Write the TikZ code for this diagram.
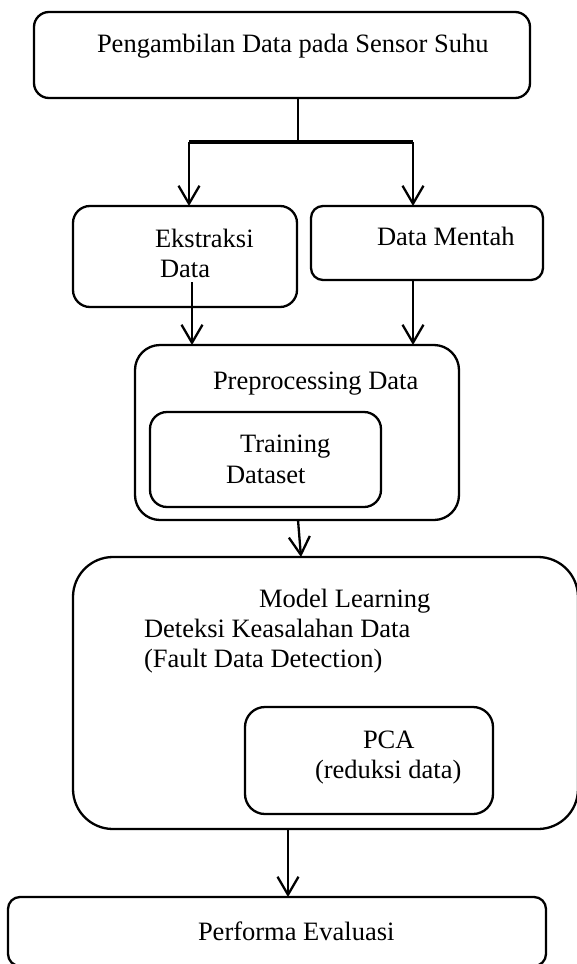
\documentclass[tikz,border=0pt]{standalone}
\usepackage{fontspec}
\setmainfont{Liberation Serif}
\usetikzlibrary{arrows.meta}
\begin{document}
\begin{tikzpicture}[x=1pt,y=-1pt,
  box/.style={draw=black, line width=2.3pt, inner sep=0pt, outer sep=0pt, anchor=north west},
  txt/.style={inner sep=0pt, outer sep=0pt, anchor=base west, font=\fontsize{26.5}{30}\selectfont},
  conn/.style={draw=black, line width=2.3pt},
  arr/.style={draw=black, line width=2.3pt, -{Straight Barb[length=18pt,width=21pt]}}]
\useasboundingbox (0,0) rectangle (576,964);
% boxes
\node[box, rounded corners=15pt, minimum width=496pt, minimum height=86pt] (top) at (34,12) {};
\node[box, rounded corners=17pt, minimum width=224pt, minimum height=101pt] (eks) at (73,206) {};
\node[box, rounded corners=12pt, minimum width=232pt, minimum height=74pt] (raw) at (311,206) {};
\node[box, rounded corners=25pt, minimum width=324pt, minimum height=175pt] (pre) at (135,345) {};
\node[box, rounded corners=17pt, minimum width=231pt, minimum height=95pt] (train) at (150,412) {};
\node[box, rounded corners=40pt, minimum width=505pt, minimum height=272pt] (ml) at (73,557) {};
\node[box, rounded corners=20pt, minimum width=248pt, minimum height=107pt] (pca) at (245,707) {};
\node[box, rounded corners=12pt, minimum width=538pt, minimum height=69pt] (perf) at (8,897) {};
% texts
\node[txt] (t1) at (97,52) {Pengambilan Data pada Sensor Suhu};
\node[txt] (t2a) at (155,247) {Ekstraksi};
\node[txt] (t2b) at (160,277) {Data};
\node[txt] (t3) at (377,245) {Data Mentah};
\node[txt] (t4) at (213,389) {Preprocessing Data};
\node[txt] (t5a) at (240,452) {Training};
\node[txt] (t5b) at (226,483) {Dataset};
\node[txt] (t6a) at (259,607) {Model Learning};
\node[txt] (t6b) at (144,637) {Deteksi Keasalahan Data};
\node[txt] (t6c) at (144,667) {(Fault Data Detection)};
\node[txt] (t7a) at (363,748) {PCA};
\node[txt] (t7b) at (315,778) {(reduksi data)};
\node[txt] (t8) at (198,940) {Performa Evaluasi};
% connectors
\coordinate (br0) at (298,142);
\coordinate (bl) at (189,142);
\coordinate (brr) at (413,142);
\draw[conn] (top.south -| br0) -- (br0);
\draw[conn, line width=3.2pt] (bl) -- (brr);
\draw[arr] (bl) -- (bl |- eks.north);
\draw[arr] (brr) -- (brr |- raw.north);
\coordinate (e1) at (192,282);
\draw[arr] (e1) -- (e1 |- pre.north);
\draw[arr] (brr |- raw.south) -- (brr |- pre.north);
\coordinate (p1) at (298,520);
\coordinate (m1) at (301,557);
\draw[arr] (p1) -- (m1);
\coordinate (m2) at (288,829);
\draw[arr] (m2) -- (m2 |- perf.north);
\end{tikzpicture}
\end{document}
